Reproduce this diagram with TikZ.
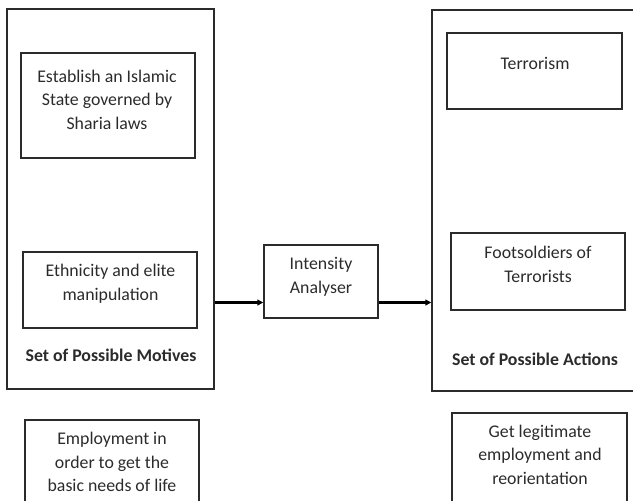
\documentclass[tikz,border=0pt]{standalone}
\usepackage{fontspec}
\setmainfont{Carlito}
\usepackage{xcolor}
\usetikzlibrary{arrows.meta,positioning}
\definecolor{ink}{HTML}{2B2B2B}
\begin{document}
\begin{tikzpicture}[
  x=1pt, y=-1pt, >={Triangle[length=6pt,width=6pt]},
  box/.style={draw=ink, line width=1.5pt, inner sep=0pt},
  txt/.style={align=center, inner sep=0pt, text=ink, font=\fontsize{17.8}{23.5}\selectfont},
  head/.style={txt, font=\fontsize{17.8}{23.5}\selectfont\bfseries},
  flow/.style={->, draw=black, line width=3pt},
]
\useasboundingbox (0,0) rectangle (633,501);
% motives side
\node[box, minimum width=207, minimum height=380] (motives) at (110.5,199) {};
\node[box, minimum width=174, minimum height=105] (islamic) at (108,105.5) {};
\node[box, minimum width=174, minimum height=76] (ethnic) at (110,290) {};
\node[box, minimum width=174, minimum height=83] (employ) at (112,461.5) {};
\node[txt] (islamicT) at (107,99.7) {Establish an Islamic\\State governed by\\Sharia laws};
\node[txt] (ethnicT) at (110.5,284) {Ethnicity and elite\\manipulation};
\node[head] (motivesT) at (111,355) {Set of Possible Motives};
\node[txt] (employT) at (112,462.3) {Employment in\\order to get the\\basic needs of life};
% analyser
\node[box, minimum width=114, minimum height=73] (intensity) at (321,281.5) {};
\node[txt] (intensityT) at (321,277) {Intensity\\Analyser};
% actions side
\node[box, minimum width=208, minimum height=381] (actions) at (536,200.5) {};
\node[box, minimum width=175, minimum height=76] (terror) at (534.5,71) {};
\node[box, minimum width=174, minimum height=77] (foot) at (538,271.5) {};
\node[box, minimum width=175, minimum height=90] (legit) at (539.5,458) {};
\node[txt] (terrorT) at (535,63) {Terrorism};
\node[txt] (footT) at (538,264.5) {Footsoldiers of\\Terrorists};
\node[head] (actionsT) at (535,359) {Set of Possible Actions};
\node[txt] (legitT) at (540,454.7) {Get legitimate\\employment and\\reorientation};
% arrows
\coordinate (row) at (0,302.5);
\draw[flow] (motives.east |- row) -- (intensity.west |- row);
\draw[flow] (intensity.east |- row) -- (actions.west |- row);
\end{tikzpicture}
\end{document}
